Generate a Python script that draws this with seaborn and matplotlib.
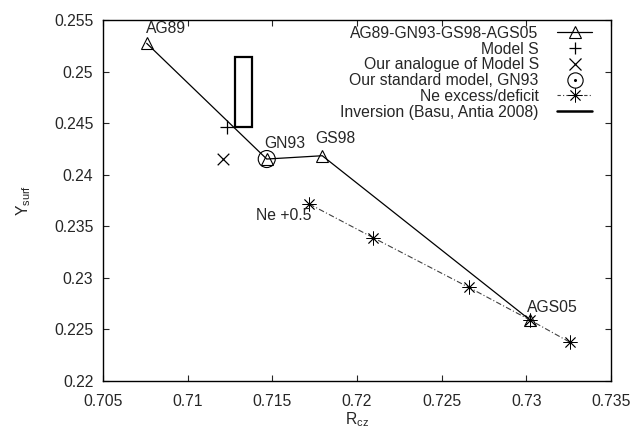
import matplotlib
matplotlib.use("Agg")
import matplotlib.pyplot as plt
from matplotlib.lines import Line2D
from matplotlib.patches import Rectangle
from matplotlib.legend_handler import HandlerTuple
import seaborn as sns

# ---- data ----
mix_names = ["AG89", "GN93", "GS98", "AGS05"]
mix_rcz = [0.70758, 0.71467, 0.71795, 0.73022]
mix_y = [0.25274, 0.24152, 0.24184, 0.22591]

models_rcz = [0.7123]
models_y = [0.24466]

analogue_rcz = [0.7121]
analogue_y = [0.24152]

std_rcz = [0.71467]
std_y = [0.24152]

ne_rcz = [0.71718, 0.72096, 0.72660, 0.73022, 0.73258]
ne_y = [0.23716, 0.23389, 0.22908, 0.22591, 0.22375]

inv_rcz = [0.7128, 0.7138]
inv_y = [0.2446, 0.2514]

label_texts = ["AG89", "GN93", "GS98", "Ne +0.5", "AGS05"]
label_x = [0.70755, 0.71451, 0.71752, 0.71401, 0.73002]
label_y = [0.25413, 0.24307, 0.24351, 0.23600, 0.22712]

legend_labels = ["AG89-GN93-GS98-AGS05", "Model S", "Our analogue of Model S",
                 "Our standard model, GN93", "Ne excess/deficit",
                 "Inversion (Basu, Antia 2008)"]

xticks = [0.705, 0.71, 0.715, 0.72, 0.725, 0.73, 0.735]
yticks = [0.22, 0.225, 0.23, 0.235, 0.24, 0.245, 0.25, 0.255]
xtick_labels = ["0.705", "0.71", "0.715", "0.72", "0.725", "0.73", "0.735"]
ytick_labels = ["0.22", "0.225", "0.23", "0.235", "0.24", "0.245", "0.25", "0.255"]

# ---- style ----
sns.set_style("ticks")
FS = 11.3
plt.rcParams["font.family"] = ["Liberation Sans", "DejaVu Sans"]
plt.rcParams["mathtext.fontset"] = "custom"
plt.rcParams["mathtext.rm"] = "Liberation Sans"
plt.rcParams["mathtext.it"] = "Liberation Sans"
plt.rcParams["mathtext.default"] = "regular"
plt.rcParams["font.size"] = FS

fig = plt.figure(figsize=(6.34, 4.32), dpi=100)
ax = fig.add_axes([103/634, 1 - 381/432, (611-103)/634, (381-20)/432])

tri_kw = dict(marker="^", markersize=8.5, markerfacecolor="none",
              markeredgecolor="black", markeredgewidth=0.8)
ast = (8, 2, 0)

# main mixture line
sns.lineplot(x=mix_rcz, y=mix_y, sort=False, ax=ax, color="black", lw=0.9,
             estimator=None, **tri_kw)

# Ne line
sns.lineplot(x=ne_rcz, y=ne_y, sort=False, ax=ax, color="0.25", lw=0.8,
             estimator=None, linestyle=(0, (5, 2, 1, 2)), marker=ast,
             markersize=10, markeredgecolor="black", markeredgewidth=0.6)

# Model S
sns.scatterplot(x=models_rcz, y=models_y, ax=ax, marker="+", s=90,
                color="black", linewidths=0.9)
# analogue
sns.scatterplot(x=analogue_rcz, y=analogue_y, ax=ax, marker="x", s=70,
                color="black", linewidths=0.9)
# standard model circle
sns.scatterplot(x=std_rcz, y=std_y, ax=ax, marker="o", s=150,
                facecolors="none", edgecolors="black", linewidths=0.8)

# inversion box
ax.add_patch(Rectangle((inv_rcz[0], inv_y[0]), inv_rcz[1] - inv_rcz[0],
                       inv_y[1] - inv_y[0], fill=False, edgecolor="black",
                       lw=1.6))

for t, x, y in zip(label_texts, label_x, label_y):
    ax.text(x, y, t, ha="left", va="center", fontsize=FS)

ax.set_xlim(0.705, 0.735)
ax.set_ylim(0.22, 0.255)
ax.set_xticks(xticks)
ax.set_xticklabels(xtick_labels)
ax.set_yticks(yticks)
ax.set_yticklabels(ytick_labels)
ax.tick_params(direction="in", top=True, right=True, length=4.5, width=0.8,
               labelsize=FS)
ax.tick_params(axis="x", pad=9)
ax.tick_params(axis="y", pad=7)
for s in ax.spines.values():
    s.set_linewidth(1.0)
    s.set_visible(True)
    s.set_color("black")

ax.set_xlabel("R$_{cz}$", fontsize=FS, labelpad=1)
ax.set_ylabel("Y$_{surf}$", fontsize=FS, labelpad=15)

# legend
h1 = Line2D([], [], color="black", lw=0.9, **tri_kw)
h2 = Line2D([], [], color="black", lw=0, marker="+", markersize=9,
            markeredgewidth=0.9)
h3 = Line2D([], [], color="black", lw=0, marker="x", markersize=8,
            markeredgewidth=0.9)
h4a = Line2D([], [], color="black", lw=0, marker="o", markersize=11,
             markerfacecolor="none", markeredgewidth=0.8)
h4b = Line2D([], [], color="black", lw=0, marker="o", markersize=1.2)
h5 = Line2D([], [], color="0.25", lw=0.8, linestyle=(0, (3, 2, 1, 2)),
            marker=ast, markersize=10, markeredgecolor="black",
            markeredgewidth=0.6)
h6 = Line2D([], [], color="black", lw=1.8)
leg = ax.legend([h1, h2, h3, (h4a, h4b), h5, h6], legend_labels,
                loc="upper right", bbox_to_anchor=(0.9626, 0.984),
                markerfirst=False, frameon=False, fontsize=FS,
                labelspacing=0.05, handlelength=2.2, handletextpad=1.2,
                borderaxespad=0.0, borderpad=0.0,
                handler_map={tuple: HandlerTuple(ndivide=1)})
for t in leg.get_texts():
    t.set_ha("right")
leg._legend_box.align = "right"

fig.savefig("out.png", dpi=100)
